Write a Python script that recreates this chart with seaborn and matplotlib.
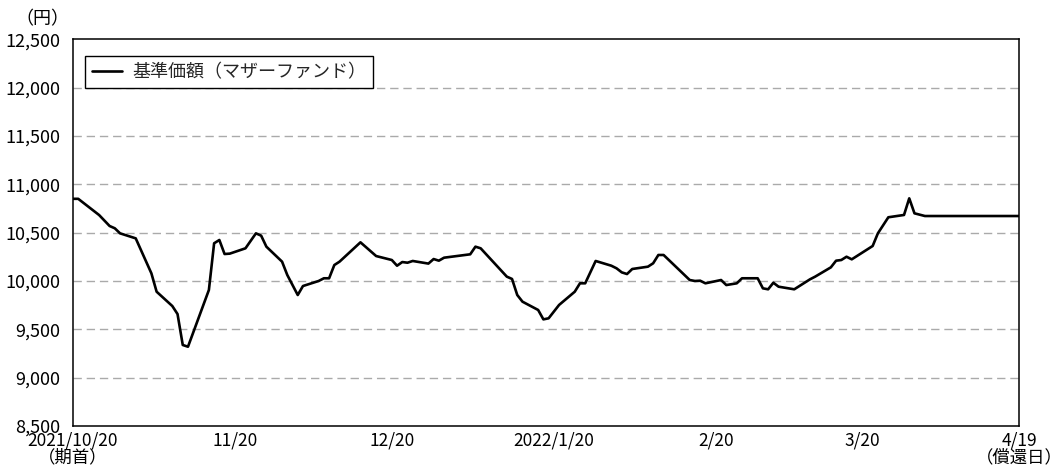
import numpy as np
import pandas as pd
import matplotlib
matplotlib.use("Agg")
import matplotlib.pyplot as plt
import seaborn as sns

# ---- data ----
start_date = "2021-10-20"
day_offsets = [0, 1, 5, 7, 8, 9, 12, 15, 16, 19, 20, 21, 22, 26, 27, 28, 29, 30, 33, 35,
               36, 37, 40, 41, 43, 44, 47, 48, 49, 50, 51, 55, 58, 61, 62, 63, 64, 65, 68, 69,
               70, 71, 76, 77, 78, 83, 84, 85, 86, 89, 90, 91, 93, 96, 97, 98, 100, 103, 104, 105,
               106, 107, 110, 111, 112, 113, 118, 119, 120, 121, 124, 125, 127, 128, 131, 132, 133, 134, 135, 138,
               141, 142, 145, 146, 147, 148, 149, 153, 154, 156, 159, 160, 161, 163, 181]
nav_values = [10850, 10850, 10682, 10569, 10545, 10493, 10441, 10079, 9889, 9741, 9658, 9338, 9320, 9907, 10390, 10424, 10279, 10283, 10338, 10493,
              10469, 10355, 10200, 10062, 9855, 9948, 10000, 10028, 10028, 10165, 10200, 10400, 10258, 10217, 10158, 10196, 10189, 10207, 10180, 10227,
              10210, 10241, 10276, 10355, 10338, 10045, 10021, 9855, 9786, 9700, 9603, 9614, 9752, 9889, 9976, 9976, 10207, 10158, 10131, 10089,
              10072, 10124, 10148, 10183, 10269, 10269, 10010, 10000, 10003, 9976, 10010, 9958, 9976, 10028, 10028, 9924, 9914, 9982, 9941, 9914,
              10017, 10045, 10141, 10210, 10217, 10251, 10224, 10362, 10493, 10659, 10683, 10855, 10700, 10672, 10672]
series_label = "基準価額（マザーファンド）"
tick_dates = ["2021-10-20", "2021-11-20", "2021-12-20", "2022-01-20", "2022-02-20", "2022-03-20", "2022-04-19"]
tick_labels = ["2021/10/20\n（期首）", "11/20", "12/20", "2022/1/20", "2/20", "3/20", "4/19\n（償還日）"]
y_ticks = [8500, 9000, 9500, 10000, 10500, 11000, 11500, 12000, 12500]
y_unit = "（円）"

df = pd.DataFrame({
    "date": pd.Timestamp(start_date) + pd.to_timedelta(day_offsets, unit="D"),
    "value": nav_values,
})

sns.set_theme(style="white")
plt.rcParams["font.family"] = ["Noto Sans CJK JP", "DejaVu Sans"]

fig = plt.figure(figsize=(10.55, 4.72), dpi=100)
ax = fig.add_axes([73 / 1055, 1 - 426 / 472, (1019 - 73) / 1055, (426 - 39.3) / 472])

sns.lineplot(data=df, x="date", y="value", ax=ax, color="black", linewidth=1.9,
             label=series_label, estimator=None)

ax.set_xlim(pd.Timestamp(tick_dates[0]), pd.Timestamp(tick_dates[-1]))
ax.set_ylim(y_ticks[0], y_ticks[-1])
ax.set_yticks(y_ticks)
ax.set_yticklabels([f"{v:,}" for v in y_ticks])
ax.set_xticks([pd.Timestamp(d) for d in tick_dates])
ax.set_xticklabels(tick_labels, linespacing=0.9)
ax.set_xlabel("")
ax.set_ylabel("")

for v in y_ticks[1:-1]:
    ax.axhline(v, color="#aaaaaa", linewidth=1.0, linestyle=(0, (6, 3.5)), zorder=0)

ax.tick_params(axis="both", direction="in", length=6, width=1, color="black",
               labelcolor="black")
ax.tick_params(axis="x", labelsize=12.5, pad=4)
ax.tick_params(axis="y", labelsize=13, pad=9)
for s in ax.spines.values():
    s.set_visible(True)
    s.set_color("black")
    s.set_linewidth(1.1)

fig.text(69 / 1055, 1 - 19 / 472, y_unit, ha="right", va="center", fontsize=13, color="black")

leg = ax.legend(loc="upper left", bbox_to_anchor=(12 / 946, 1 - 16.5 / 386.7), fontsize=13,
                frameon=True, fancybox=False, edgecolor="black", framealpha=1,
                handlelength=1.65, borderpad=0.4, handletextpad=0.55, borderaxespad=0)
leg.get_frame().set_linewidth(1.0)

fig.savefig("out.png", dpi=100)
